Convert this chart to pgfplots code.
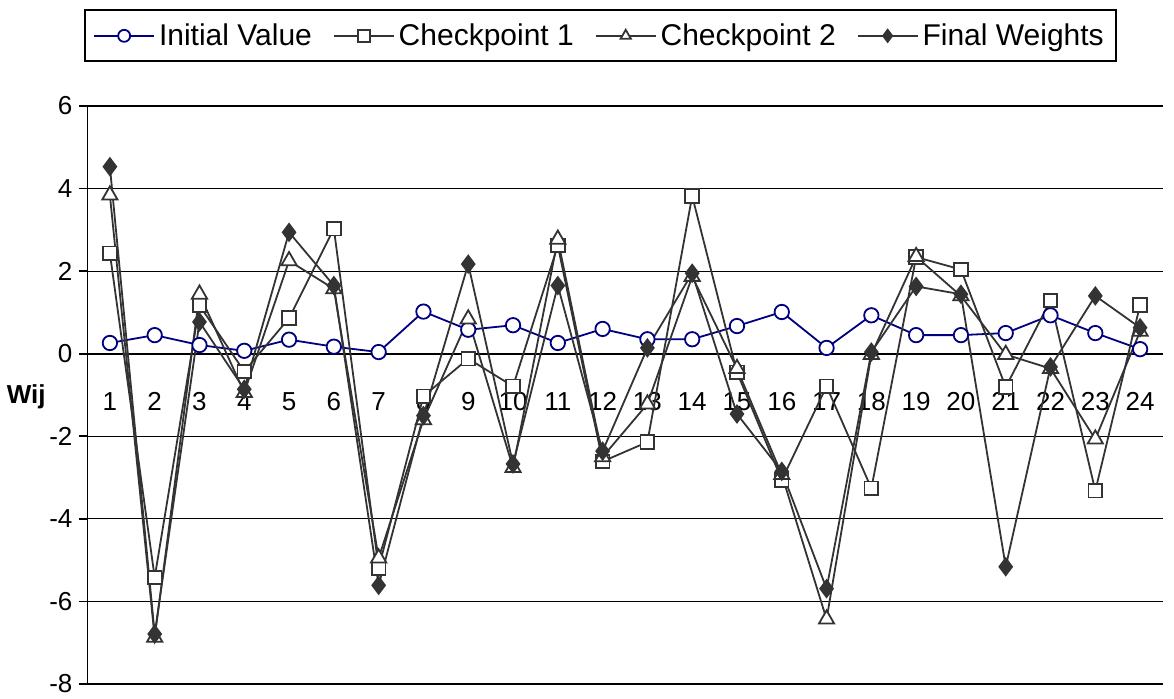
\documentclass[border=0pt]{standalone}
\usepackage{pgfplots}
\pgfplotsset{compat=1.18}
\usepackage{fontspec}
\setmainfont{Liberation Sans}
\definecolor{navyline}{RGB}{0,0,128}
\definecolor{darkline}{RGB}{51,51,51}
\begin{document}
\begin{tikzpicture}
\path[use as bounding box] (0,0) rectangle (587pt,349pt);
\begin{axis}[
  at={(43.75pt,7pt)}, anchor=south west,
  scale only axis, width=537.5pt, height=289pt,
  xmin=0.5, xmax=24.5, ymin=-8, ymax=6,
  axis y line*=left, axis x line*=middle,
  axis line style={black, line width=0.9pt, -},
  xtick={1,...,24},
  minor xtick={1.5,2.5,...,23.5},
  x tick style={draw=none},
  minor x tick style={black, line width=0.8pt},
  minor tick length=3.5pt,
  xtick align=outside,
  x tick label style={yshift=-12pt},
  ytick={-8,-6,...,6},
  y tick style={black, line width=0.8pt},
  major tick length=4pt,
  ytick align=outside,
  ymajorgrids, grid style={black, line width=0.6pt},
  tick label style={font=\fontsize{13}{15}\selectfont},
  /pgf/number format/assume math mode=true,
  clip=false,
  legend image code/.code={\draw[mark repeat=2,mark phase=2,#1,mark size=3pt] plot coordinates {(0pt,0pt)(15pt,0pt)(30pt,0pt)};},
  legend style={at={(-0.003,1.167)}, anchor=north west, legend columns=4,
    draw=black, line width=1pt, font=\fontsize{15}{17}\selectfont,
    inner xsep=4pt, inner ysep=4.5pt,
    /tikz/every even column/.append style={column sep=8.5pt}},
  legend cell align=left,
]
\addplot[navyline, line width=0.9pt, mark=*, mark options={fill=white, draw=navyline, line width=0.9pt}, mark size=3.6pt]
coordinates {(1,0.26)(2,0.45)(3,0.21)(4,0.07)(5,0.34)(6,0.17)(7,0.04)(8,1.02)(9,0.58)(10,0.69)(11,0.26)(12,0.60)(13,0.35)(14,0.35)(15,0.67)(16,1.01)(17,0.14)(18,0.93)(19,0.45)(20,0.45)(21,0.50)(22,0.93)(23,0.50)(24,0.11)};
\addlegendentry{Initial Value}
\addplot[darkline, line width=0.9pt, mark=square*, mark options={fill=white, draw=darkline, line width=0.9pt}, mark size=3.4pt]
coordinates {(1,2.43)(2,-5.42)(3,1.17)(4,-0.43)(5,0.86)(6,3.03)(7,-5.19)(8,-1.03)(9,-0.12)(10,-0.79)(11,2.62)(12,-2.61)(13,-2.14)(14,3.82)(15,-0.45)(16,-3.06)(17,-0.79)(18,-3.26)(19,2.34)(20,2.04)(21,-0.81)(22,1.29)(23,-3.32)(24,1.18)};
\addlegendentry{Checkpoint 1}
\addplot[darkline, line width=0.9pt, mark=triangle*, mark options={fill=white, draw=darkline, line width=0.9pt}, mark size=4.4pt]
coordinates {(1,3.84)(2,-6.87)(3,1.44)(4,-0.94)(5,2.25)(6,1.57)(7,-4.95)(8,-1.60)(9,0.84)(10,-2.76)(11,2.77)(12,-2.50)(13,-1.22)(14,1.87)(15,-0.36)(16,-2.93)(17,-6.43)(18,-0.02)(19,2.35)(20,1.40)(21,-0.02)(22,-0.36)(23,-2.07)(24,0.54)};
\addlegendentry{Checkpoint 2}
\addplot[darkline, line width=0.9pt, mark=diamond*, mark options={fill=darkline, draw=darkline}, mark size=4.2pt]
coordinates {(1,4.53)(2,-6.79)(3,0.77)(4,-0.86)(5,2.94)(6,1.65)(7,-5.61)(8,-1.50)(9,2.17)(10,-2.67)(11,1.65)(12,-2.36)(13,0.14)(14,1.95)(15,-1.46)(16,-2.85)(17,-5.69)(18,0.04)(19,1.63)(20,1.44)(21,-5.16)(22,-0.32)(23,1.40)(24,0.63)};
\addlegendentry{Final Weights}
\node[font=\fontsize{13}{15}\selectfont\bfseries, anchor=center] at (axis description cs:-0.057,0.497) {Wij};
\end{axis}
\end{tikzpicture}
\end{document}
